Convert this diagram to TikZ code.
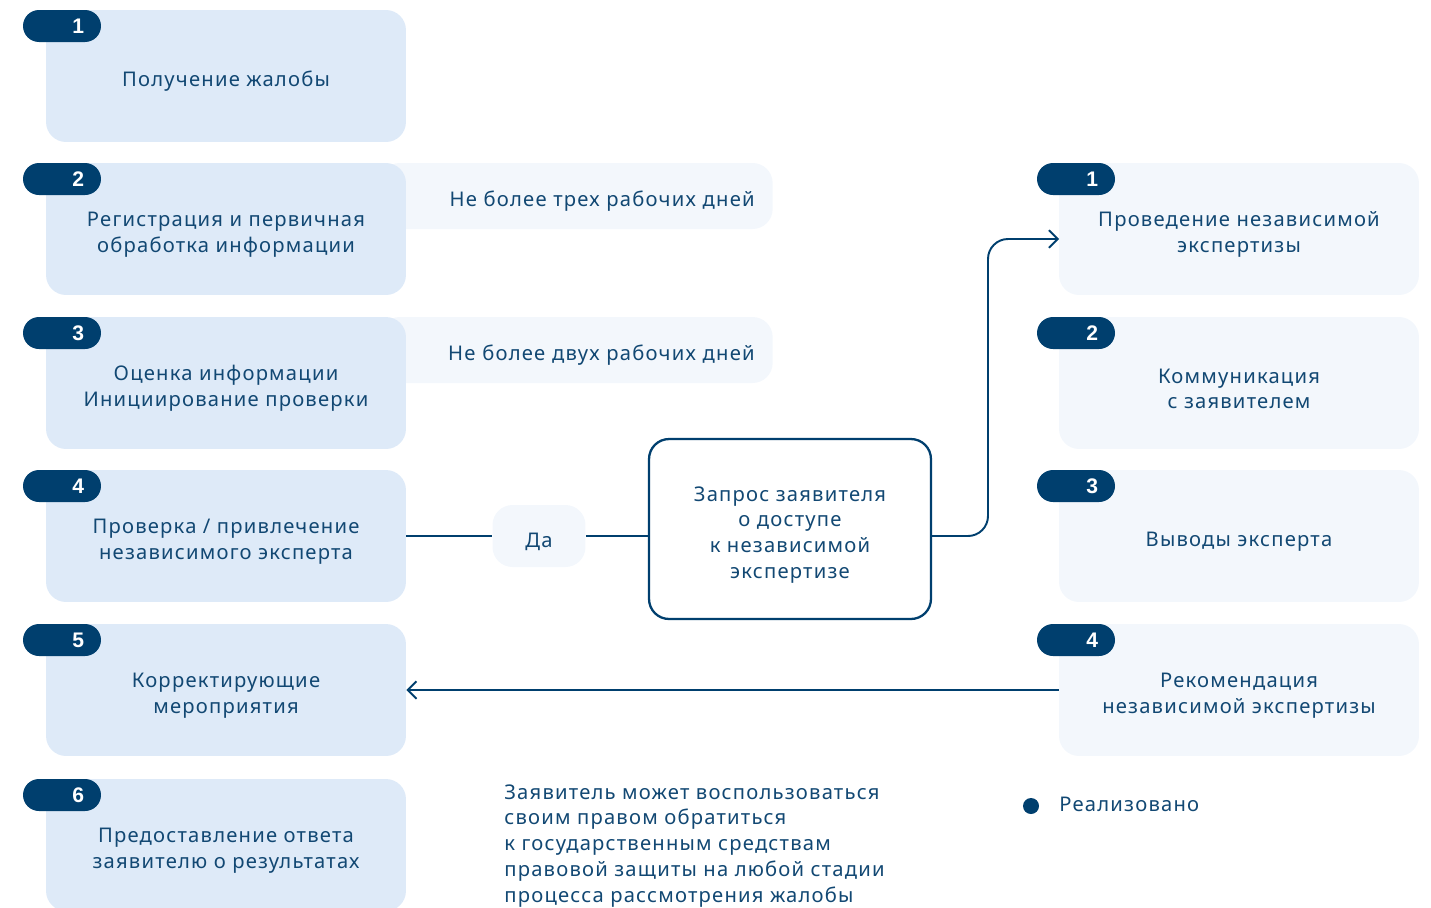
\documentclass[tikz,border=0pt]{standalone}
\usepackage{fontspec}
\setmainfont{Noto Sans}[LetterSpace=6]
\newfontfamily\badgefont{Liberation Sans}
\usetikzlibrary{arrows.meta}
\usetikzlibrary{positioning}
\definecolor{stepblue}{RGB}{222,234,248}
\definecolor{palesky}{RGB}{243,247,252}
\definecolor{navy}{RGB}{0,63,110}
\definecolor{ink}{RGB}{18,72,115}

\newcommand{\stepfont}{\fontsize{11.5}{14.7}\selectfont}
\tikzset{
  lowered/.style={execute at begin node={\rule{0pt}{#1}}},
  lowered/.default=15pt,
  stepbox/.style={fill=stepblue, rounded corners=0.4cm, minimum width=7.2cm, minimum height=2.64cm,
                  align=center, text=ink, inner sep=0pt, lowered=#1},
  stepbox/.default=29.7pt,
  expbox/.style={stepbox=#1, fill=palesky},
  expbox/.default=29.7pt,
  badge/.style={fill=navy, rounded corners=0.32cm, minimum width=1.56cm, minimum height=0.64cm,
                text width=0.88cm, inner xsep=0.34cm, inner ysep=0pt, align=right, text=white,
                font=\badgefont\fontsize{12}{14}\selectfont\bfseries},
  notebox/.style={fill=palesky, rounded corners=0.4cm, minimum height=1.32cm, text width=7.14cm,
                  inner xsep=0.36cm, align=right, text=ink, anchor=east, lowered},
  link/.style={draw=navy, line width=1.1pt},
  tip/.style={-{Straight Barb[length=5pt, width=10pt]}},
}

\begin{document}
\begin{tikzpicture}[x=0.02cm, y=-0.02cm, font=\stepfont]
            \useasboundingbox (0,0) rectangle (1431,907);
            % Deadlines (behind the steps)
            \node[notebox] (days3) at (773,196) {Не более трех рабочих дней};
            \node[notebox] (days2) at (773,350) {Не более двух рабочих дней};
            % Complaint steps
            \node[stepbox=15pt] (l1) at (226, 76) {Получение жалобы};
            \node[stepbox] (l2) at (226,229) {Регистрация и первичная\\обработка информации};
            \node[stepbox] (l3) at (226,383) {Оценка информации\\Инициирование проверки};
            \node[stepbox] (l4) at (226,536) {Проверка / привлечение\\независимого эксперта};
            \node[stepbox] (l5) at (226,690) {Корректирующие\\мероприятия};
            \node[stepbox] (l6) at (226,845) {Предоставление ответа\\заявителю о результатах};
            \node[badge] (lb1) at (62, 26) {1};
            \node[badge] (lb2) at (62,179) {2};
            \node[badge] (lb3) at (62,333) {3};
            \node[badge] (lb4) at (62,486) {4};
            \node[badge] (lb5) at (62,640) {5};
            \node[badge] (lb6) at (62,795) {6};
            % Expertise steps
            \node[expbox] (r1) at (1239,229) {Проведение независимой\\экспертизы};
            \node[expbox] (r2) at (1239,383) {Коммуникация\\с заявителем};
            \node[expbox=15pt] (r3) at (1239,536) {Выводы эксперта};
            \node[expbox] (r4) at (1239,690) {Рекомендация\\независимой экспертизы};
            \node[badge] (rb1) at (1076,179) {1};
            \node[badge] (rb2) at (1076,333) {2};
            \node[badge] (rb3) at (1076,486) {3};
            \node[badge] (rb4) at (1076,640) {4};
            % Request for expertise
            \node[fill=palesky, rounded corners=0.4cm, minimum width=1.86cm, minimum height=1.24cm, text=ink,
                  inner sep=0pt, lowered] (yes) at (539,536) {Да};
            \node[draw=navy, line width=1.3pt, fill=white, rounded corners=0.4cm, minimum width=5.64cm, minimum height=3.6cm,
                  align=center, text=ink, inner sep=0pt, lowered=59.1pt] (query) at (790,529) {Запрос заявителя\\о доступе\\к независимой\\экспертизе};
            \coordinate (r1in) at (1059,239);
            \draw[link] (l4.east) -- (yes.west);
            \draw[link] (yes.east) -- (yes.east -| query.west);
            \draw[link, tip, rounded corners=0.4cm] (yes.east -| query.east) -- (988,536) |- (r1in);
            \draw[link, tip] (r4.west) -- (l5.east);
            % Legend and note
            \node[circle, fill=navy, minimum size=0.32cm, inner sep=0pt] (legdot) at (1031,806) {};
            \node[anchor=west, text=ink, inner sep=0pt] (legtext) at (1059,804) {Реализовано};
            \node[anchor=north west, align=left, text=ink, inner sep=0pt] (recourse) at (504,784)
                 {Заявитель может воспользоваться\\своим правом обратиться\\к государственным средствам\\правовой защиты на любой стадии\\процесса рассмотрения жалобы};
        \end{tikzpicture}
\end{document}
